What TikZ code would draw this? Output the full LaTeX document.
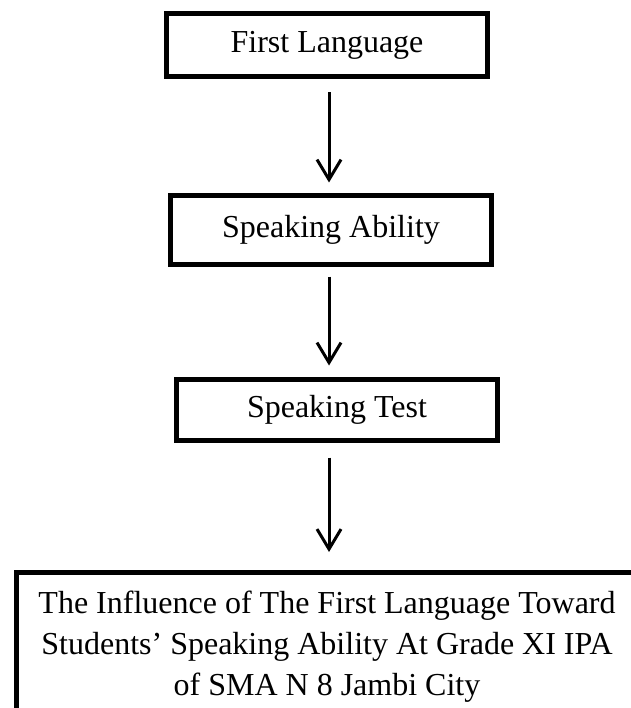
\documentclass[tikz,border=0pt]{standalone}
\usepackage{fontspec}
\setmainfont{Liberation Serif}
\usetikzlibrary{arrows.meta}
\tikzset{every picture/.style={>={Straight Barb[length=20pt,width=24pt]}},stage/.style={draw,line width=5pt,minimum width=321pt,inner sep=0pt},flow/.style={->,line width=3pt}}

\begin{document}
\begin{tikzpicture}[x=1pt,y=-1pt,font=\fontsize{32}{41}\selectfont]
  \useasboundingbox (0,0) rectangle (630,708);
  \coordinate (axis) at (329,0);
  \node (0) [stage,minimum height=63pt] at (327,45) {First Language};
  \node (1) [stage,minimum height=69pt] at (331,230) {Speaking Ability};
  \node (2) [stage,minimum height=61pt] at (337,410) {Speaking Test};
  \node (3) [stage,anchor=north,minimum width=621pt,align=center,inner ysep=19pt] at (327,569.5) {The Influence of The First Language Toward\\ Students' Speaking Ability At Grade XI IPA\\ of SMA N 8 Jambi City};
  \draw [flow,shorten <=13.5pt,shorten >=10.5pt] (0.south -| axis) to (1.north -| axis);
  \draw [flow,shorten <=9.5pt,shorten >=11.5pt] (1.south -| axis) to (2.north -| axis);
  \draw [flow,shorten <=14.5pt,shorten >=17.5pt] (2.south -| axis) to (3.north -| axis);
  \end{tikzpicture}
\end{document}
